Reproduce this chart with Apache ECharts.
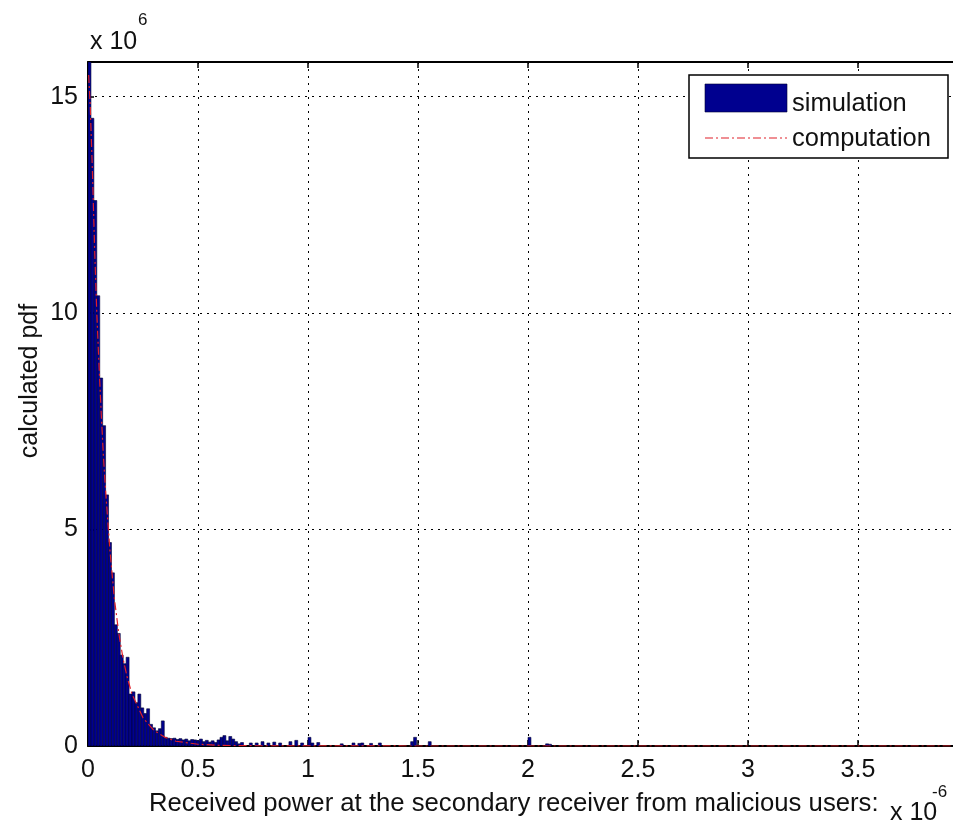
<!DOCTYPE html>
<html>
<head>
<meta charset="utf-8">
<script src="https://cdn.jsdelivr.net/npm/echarts@6/dist/echarts.min.js"></script>
<style>
html,body{margin:0;padding:0;background:#fff;}
#chart{width:953px;height:830px;}
</style>
</head>
<body>
<div id="chart"></div>
<script>
// x in units of 1e-6, y in units of 1e6
var binWidth = 0.01333;
var simX = [0.0067,0.0200,0.0333,0.0467,0.0600,0.0733,0.0867,0.1000,0.1133,0.1267,
  0.1400,0.1533,0.1667,0.1800,0.1933,0.2067,0.2200,0.2333,0.2467,0.2600,
  0.2733,0.2867,0.3000,0.3133,0.3267,0.3400,0.3533,0.3667,0.3800,0.3933,
  0.4067,0.4200,0.4333,0.4467,0.4600,0.4733,0.4867,0.5000,0.5133,0.5267,
  0.5400,0.5533,0.5667,0.5800,0.5933,0.6067,0.6200,0.6333,0.6467,0.6600,
  0.6733,0.6867,0.7000,0.7400,0.7667,0.7933,0.8200,0.8467,0.8733,0.9200,
  0.9467,0.9733,1.0067,1.0200,1.0467,1.1533,1.2067,1.2333,1.2467,1.2867,
  1.3267,1.4733,1.4867,1.5533,2.0067,2.0867,2.1000];
var simY = [15.8,14.5,12.6,10.4,8.5,7.4,5.8,4.7,4.0,2.8,
  2.6,2.1,1.9,2.05,1.2,1.25,1.0,1.2,0.88,0.75,
  0.86,0.5,0.42,0.35,0.4,0.58,0.20,0.18,0.17,0.18,
  0.15,0.17,0.14,0.16,0.12,0.15,0.14,0.12,0.16,0.10,
  0.13,0.09,0.12,0.08,0.14,0.20,0.24,0.12,0.22,0.16,
  0.10,0.05,0.08,0.07,0.07,0.10,0.07,0.09,0.07,0.10,
  0.13,0.07,0.20,0.07,0.08,0.05,0.07,0.06,0.07,0.06,
  0.07,0.10,0.20,0.10,0.20,0.05,0.04];
var compX = [0.003,0.01,0.02,0.03,0.04,0.05,0.06,0.07,0.08,0.10,0.12,0.14,0.16,0.18,0.20,0.25,0.30,0.35,0.40,0.50,0.60,0.80,1.00,2.00,4.00];
var compY = [15.5,14.8,13.3,11.5,10.0,8.8,7.7,6.7,5.9,4.5,3.4,2.6,2.0,1.55,1.2,0.65,0.36,0.2,0.11,0.04,0.015,0.003,0.001,0,0];
var xTicks = ['0','0.5','1','1.5','2','2.5','3','3.5'];
var yTicks = ['0','5','10','15'];
var legendNames = ['simulation','computation'];
var xLabel = 'Received power at the secondary receiver from malicious users:';
var yLabel = 'calculated pdf';

var FONT = 'Liberation Sans, Arial, Helvetica, sans-serif';
var chart = echarts.init(document.getElementById('chart'), null, {renderer:'canvas'});

var simData = simX.map(function(x,i){return [x, simY[i]];});
var compData = compX.map(function(x,i){return [x, compY[i]];});

function fmtX(v){
  var s = String(Math.round(v*10)/10);
  return xTicks.indexOf(s) >= 0 ? s : '';
}
function fmtY(v){
  var s = String(Math.round(v*10)/10);
  return yTicks.indexOf(s) >= 0 ? s : '';
}
var gridLine = {show:true, lineStyle:{color:'#000', type:[2,5], width:1}};

var option = {
  backgroundColor:'#fff',
  animation:false,
  grid:{left:88, top:62, width:880, height:684, containLabel:false, outerBoundsMode:'none'},
  xAxis:[
    {type:'value', min:0, max:4, interval:0.5, position:'bottom',
     axisLine:{show:true, onZero:false, lineStyle:{color:'#000', width:2}},
     axisTick:{show:true, inside:true, length:6, lineStyle:{color:'#000', width:1.5}},
     axisLabel:{show:true, formatter:fmtX, color:'#111', fontSize:25, fontFamily:FONT, margin:12},
     splitLine:gridLine},
    {type:'value', min:0, max:4, interval:0.5, position:'top',
     axisLine:{show:true, onZero:false, lineStyle:{color:'#000', width:2}},
     axisTick:{show:true, inside:true, length:6, lineStyle:{color:'#000', width:1.5}},
     axisLabel:{show:false}, splitLine:{show:false}}
  ],
  yAxis:[
    {type:'value', min:0, max:15.8, interval:5, position:'left',
     axisLine:{show:true, onZero:false, lineStyle:{color:'#000', width:2}},
     axisTick:{show:true, inside:true, length:6, lineStyle:{color:'#000', width:1.5}},
     axisLabel:{show:true, formatter:fmtY, color:'#111', fontSize:25, fontFamily:FONT, margin:10},
     splitLine:gridLine},
    {type:'value', min:0, max:15.8, interval:5, position:'right',
     axisLine:{show:true, onZero:false, lineStyle:{color:'#000', width:2}},
     axisTick:{show:true, inside:true, length:6},
     axisLabel:{show:false}, splitLine:{show:false}}
  ],
  series:[
    {name:legendNames[0], type:'custom', xAxisIndex:0, yAxisIndex:0, clip:true, z:3,
     data:simData,
     renderItem:function(params, api){
       var x = api.value(0), y = api.value(1);
       var p0 = api.coord([x - binWidth/2, y]);
       var p1 = api.coord([x + binWidth/2, 0]);
       return {type:'rect',
         shape:{x:p0[0], y:p0[1], width:p1[0]-p0[0], height:p1[1]-p0[1]},
         style:{fill:'#00008f', stroke:'#000033', lineWidth:0.6}};
     }},
    {name:legendNames[1], type:'line', xAxisIndex:0, yAxisIndex:0, z:4,
     data:compData, showSymbol:false, symbol:'none', smooth:false,
     lineStyle:{color:'#e0202a', width:1.2, type:[8,3,2,3]}}
  ],
  graphic:[
    {type:'text', left:90, top:30, style:{text:'x 10', fontSize:25, fontFamily:FONT, fill:'#111'}},
    {type:'text', left:138, top:12, style:{text:'6', fontSize:17, fontFamily:FONT, fill:'#111'}},
    {type:'text', left:890, top:801, style:{text:'x 10', fontSize:25, fontFamily:FONT, fill:'#111'}},
    {type:'text', left:932, top:784, style:{text:'-6', fontSize:17, fontFamily:FONT, fill:'#111'}},
    {type:'text', x:149, y:804, style:{text:xLabel, fontSize:25.7, fontFamily:FONT, fill:'#111', textVerticalAlign:'middle', textAlign:'left'}},
    {type:'text', x:30, y:381, rotation:Math.PI/2, style:{text:yLabel, fontSize:25, fontFamily:FONT, fill:'#111', textVerticalAlign:'middle', textAlign:'center'}},
    {type:'rect', shape:{x:689, y:75, width:259, height:83}, style:{fill:'#fff', stroke:'#000', lineWidth:1.5}, z:100},
    {type:'rect', shape:{x:705, y:84, width:82, height:28}, style:{fill:'#00008f', stroke:'#000033', lineWidth:0.6}, z:101},
    {type:'line', shape:{x1:705, y1:138, x2:787, y2:138}, style:{stroke:'#e0202a', lineWidth:1.2, lineDash:[8,3,2,3]}, z:101},
    {type:'text', x:792, y:104, z:101, style:{text:legendNames[0], fontSize:25.5, fontFamily:FONT, fill:'#111', textVerticalAlign:'middle'}},
    {type:'text', x:792, y:139, z:101, style:{text:legendNames[1], fontSize:25.5, fontFamily:FONT, fill:'#111', textVerticalAlign:'middle'}}
  ]
};
chart.setOption(option);
</script>
</body>
</html>
